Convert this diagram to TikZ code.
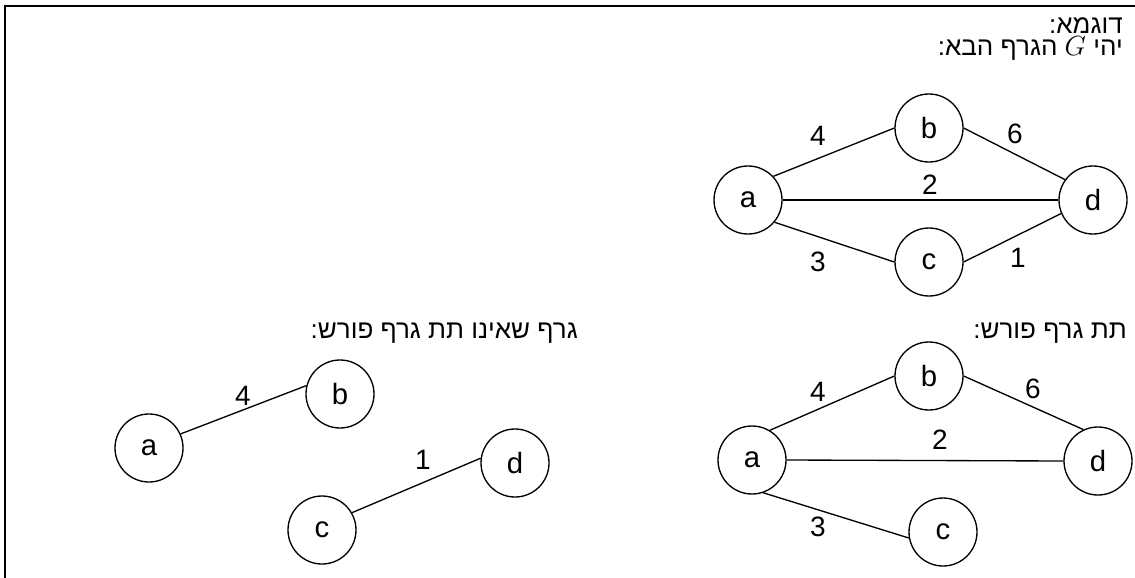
\documentclass[tikz,border=0pt]{standalone}
\usepackage{fontspec}
\setmainfont{Liberation Sans}
\newfontfamily\hebfont[Script=Hebrew]{Liberation Sans}
\TeXXeTstate=1
\usetikzlibrary{positioning}

\begin{document}
\begin{tikzpicture}[
  x=0.75pt, y=-0.75pt,
  vertex/.style={draw, circle, minimum size=51pt, inner sep=0pt, line width=1pt, font=\fontsize{22}{25}\selectfont},
  edge/.style={line width=1pt},
  weight/.style={inner sep=0pt, font=\fontsize{21}{24}\selectfont},
  heading/.style={anchor=base east, inner sep=0pt, align=right, font=\hebfont\fontsize{19.5}{16.5}\selectfont},
]
\useasboundingbox (0,0) rectangle (1135,578);
\draw[line width=1.5pt] (5,578) -- (5,5.5) -- (1135,5.5);

% titles
\node[heading] (title) at (1123,55) {\beginR דוגמא:\endR\\ \beginR יהי $G$ הגרף הבא:\endR};
\node[heading] (spanning) at (1127,338) {\beginR תת גרף פורש:\endR};
\node[heading] (notspanning) at (578,338) {\beginR גרף שאינו תת גרף פורש:\endR};

% the graph G
\node[vertex] (ga) at (748,200) {a};
\node[vertex] (gb) at (929,128) {b};
\node[vertex] (gc) at (929,262) {c};
\node[vertex] (gd) at (1093,200) {d};
\draw[edge] (ga.43) -- (gb.west);
\draw[edge] (ga.east) -- (gd.west);
\draw[edge] (ga.-40) -- (gc.west);
\draw[edge] (gb.east) -- (gd.144);
\draw[edge] (gc.east) -- (gd.203);
\node[weight] (gab) at (818,136) {4};
\node[weight] (gbd) at (1015,134) {6};
\node[weight] (gad) at (930,185) {2};
\node[weight] (gac) at (818,262) {3};
\node[weight] (gcd) at (1018,258) {1};

% spanning subgraph
\node[vertex] (sa) at (752,460) {a};
\node[vertex] (sb) at (929,376) {b};
\node[vertex] (sc) at (943,532) {c};
\node[vertex] (sd) at (1098,461) {d};
\draw[edge] (sa.59) -- (sb.west);
\draw[edge] (sb.east) -- (sd.115);
\draw[edge] (sa.east) -- (sd.west);
\draw[edge] (sa.-71) -- (sc.190);
\node[weight] (sab) at (818,392) {4};
\node[weight] (sbd) at (1033,389) {6};
\node[weight] (sad) at (940,440) {2};
\node[weight] (sac) at (818,527) {3};

% not a spanning subgraph
\node[vertex] (na) at (149,448) {a};
\node[vertex] (nb) at (340,394) {b};
\node[vertex] (nc) at (322,530) {c};
\node[vertex] (nd) at (515,463) {d};
\draw[edge] (na.24) -- (nb.166);
\draw[edge] (nc.30) -- (nd.172);
\node[weight] (nab) at (243,396) {4};
\node[weight] (ncd) at (423,460) {1};
\end{tikzpicture}
\end{document}
